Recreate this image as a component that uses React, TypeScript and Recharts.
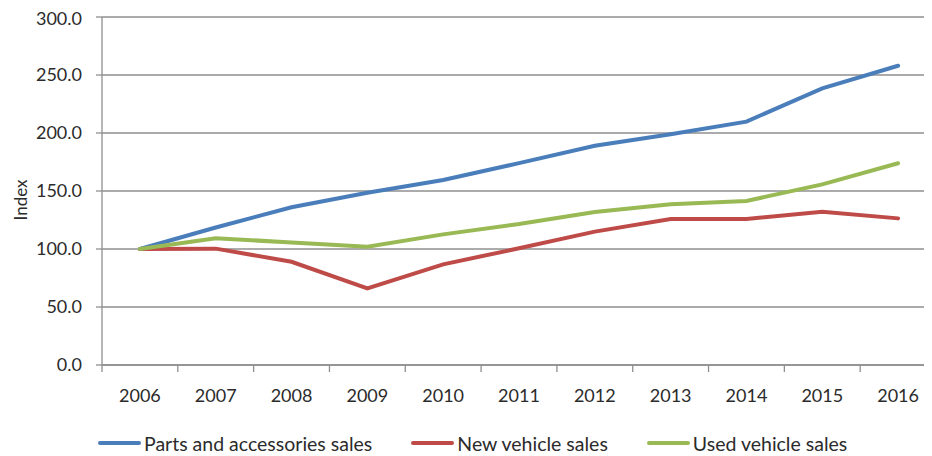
import { LineChart, Line, XAxis, YAxis, CartesianGrid, Legend } from 'recharts';

const years = [2006, 2007, 2008, 2009, 2010, 2011, 2012, 2013, 2014, 2015, 2016];
const partsSales = [100, 118.5, 136, 148.5, 159.5, 174, 189, 199, 209.8, 238.5, 258];
const newVehicleSales = [100, 100.3, 89, 66, 86.8, 100.6, 115, 125.9, 125.9, 132.2, 126.4];
const usedVehicleSales = [100, 109.2, 105.7, 102, 112.6, 121.5, 131.9, 138.5, 141.4, 155.7, 173.9];
const yTicks = [0, 50, 100, 150, 200, 250, 300];
const seriesNames = ['Parts and accessories sales', 'New vehicle sales', 'Used vehicle sales'];

const data = years.map((year, i) => ({
  year,
  parts: partsSales[i],
  newVehicle: newVehicleSales[i],
  used: usedVehicleSales[i],
}));

// labels at the years, tick marks between them
const xTicks = [years[0] - 0.5, ...years.flatMap((y) => [y, y + 0.5])];

const FONT = 'Lato, "Open Sans", sans-serif';
const GRID = '#8f8f8f';
const TEXT = '#2b2b2b';

const XTick = (props: any) => {
  const { x, y, payload } = props;
  if (Number.isInteger(payload.value)) {
    return (
      <text x={x} y={y + 30} textAnchor="middle" dominantBaseline="central" fontSize={18} fontFamily={FONT} fill={TEXT}>
        {payload.value}
      </text>
    );
  }
  return <line x1={x} x2={x} y1={y} y2={y + 7} stroke={GRID} strokeWidth={1.3} />;
};

const renderLegend = (props: any) => {
  const items = [...props.payload].sort((a: any, b: any) => seriesNames.indexOf(a.value) - seriesNames.indexOf(b.value));
  return (
    <div style={{ display: 'flex', alignItems: 'center', height: 26, paddingLeft: 90, fontFamily: FONT, fontSize: 19.5, color: TEXT }}>
      {items.map((entry: any) => (
        <div key={entry.value} style={{ display: 'flex', alignItems: 'center', marginRight: 39 }}>
          <span style={{ display: 'inline-block', width: 43, height: 4, background: entry.color, borderRadius: 2, marginRight: 3 }} />
          <span>{entry.value}</span>
        </div>
      ))}
    </div>
  );
};

const IndexLabel = ({ viewBox }: any) => {
  const x = viewBox.x - 22;
  const y = viewBox.y + viewBox.height / 2 + 9;
  return (
    <text x={x} y={y} transform={`rotate(-90, ${x}, ${y})`} textAnchor="middle" dominantBaseline="central" fontSize={17} fontFamily={FONT} fill={TEXT}>
      Index
    </text>
  );
};

const App = () => {
  return (
    <div style={{ width: 924, height: 448, overflow: 'hidden' }}>
      <LineChart width={940} height={448} data={data} margin={{ top: 9, right: 12, left: 34, bottom: 0 }}>
        <CartesianGrid vertical={false} stroke={GRID} strokeWidth={1.3} />
        <XAxis
          dataKey="year"
          type="number"
          domain={[years[0] - 0.5, years[years.length - 1] + 0.5]}
          ticks={xTicks}
          interval={0}
          tick={<XTick />}
          tickLine={false}
          tickSize={0}
          tickMargin={0}
          axisLine={{ stroke: GRID, strokeWidth: 1.3 }}
          height={65}
        />
        <YAxis
          domain={[0, 300]}
          ticks={yTicks}
          width={60}
          tickFormatter={(v: number) => v.toFixed(1)}
          tick={{ fontSize: 18, fontFamily: FONT, fill: TEXT }}
          tickSize={6}
          tickMargin={14}
          tickLine={{ stroke: GRID, strokeWidth: 1.3 }}
          axisLine={{ stroke: GRID, strokeWidth: 1.3 }}
          label={{ content: IndexLabel }}
        />
        <Legend verticalAlign="bottom" content={renderLegend} wrapperStyle={{ left: 0, width: 940 }} />
        <Line type="linear" dataKey="parts" name={seriesNames[0]} stroke="#4a7ebb" strokeWidth={4} dot={false} strokeLinecap="round" isAnimationActive={false} />
        <Line type="linear" dataKey="newVehicle" name={seriesNames[1]} stroke="#be4b48" strokeWidth={4} dot={false} strokeLinecap="round" isAnimationActive={false} />
        <Line type="linear" dataKey="used" name={seriesNames[2]} stroke="#98b954" strokeWidth={4} dot={false} strokeLinecap="round" isAnimationActive={false} />
      </LineChart>
    </div>
  );
};

export default App;
